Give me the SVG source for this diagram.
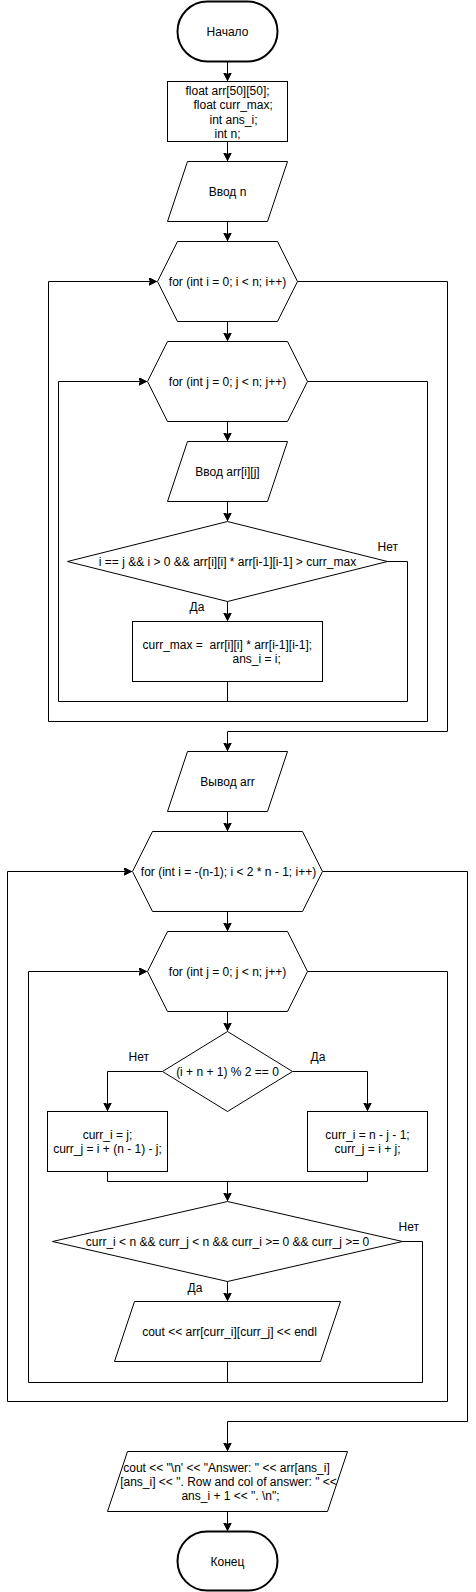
<svg xmlns="http://www.w3.org/2000/svg" width="476" height="1592" viewBox="0 0 476 1592">
<defs>
<style>
.s{fill:#fff;stroke:#000;stroke-width:1}
.t{fill:#fff;stroke:#000;stroke-width:2}
.c{fill:none;stroke:#000;stroke-width:1}
text{font-family:"Liberation Sans",Arial,Helvetica,sans-serif;font-size:12px;fill:#000}
.m{text-anchor:middle}
</style>
<marker id="a" markerWidth="10" markerHeight="10" refX="8" refY="4" orient="auto" markerUnits="userSpaceOnUse">
<path d="M0,0 L8,4 L0,8 L2,4 z" fill="#000" stroke="#000" stroke-width="1"/>
</marker>
</defs>
<rect width="476" height="1592" fill="#fff"/>
<g transform="translate(0.5,0.5)">
<g id="connectors">
<path class="c" d="M227,61 V80" marker-end="url(#a)"/>
<path class="c" d="M227,141 V160" marker-end="url(#a)"/>
<path class="c" d="M227,221 V240" marker-end="url(#a)"/>
<path class="c" d="M227,321 V340" marker-end="url(#a)"/>
<path class="c" d="M227,421 V440" marker-end="url(#a)"/>
<path class="c" d="M227,501 V520" marker-end="url(#a)"/>
<path class="c" d="M227,601 V620" marker-end="url(#a)"/>
<path class="c" d="M387,561 H407 V701 H58 V381 H146" marker-end="url(#a)"/>
<path class="c" d="M227,681 V701"/>
<path class="c" d="M307,381 H427 V721 H48 V281 H156" marker-end="url(#a)"/>
<path class="c" d="M297,281 H447 V731 H227 V750" marker-end="url(#a)"/>
<path class="c" d="M227,811 V830" marker-end="url(#a)"/>
<path class="c" d="M227,911 V930" marker-end="url(#a)"/>
<path class="c" d="M227,1011 V1030" marker-end="url(#a)"/>
<path class="c" d="M162,1071 H107 V1110" marker-end="url(#a)"/>
<path class="c" d="M292,1071 H367 V1110" marker-end="url(#a)"/>
<path class="c" d="M107,1171 V1181 H367 V1171"/>
<path class="c" d="M227,1181 V1200" marker-end="url(#a)"/>
<path class="c" d="M227,1281 V1300" marker-end="url(#a)"/>
<path class="c" d="M402,1241 H422 V1382 H28 V971 H146" marker-end="url(#a)"/>
<path class="c" d="M227,1361 V1382"/>
<path class="c" d="M307,971 H447 V1401 H7 V871 H131" marker-end="url(#a)"/>
<path class="c" d="M322,871 H467 V1421 H227 V1450" marker-end="url(#a)"/>
<path class="c" d="M227,1511 V1530" marker-end="url(#a)"/>
<text x="377" y="550">Нет</text>
<text x="189" y="610">Да</text>
<text x="128" y="1060">Нет</text>
<text x="310" y="1060">Да</text>
<text x="398" y="1230">Нет</text>
<text x="187" y="1291">Да</text>
</g>
<g id="start">
<rect class="t" x="177" y="1" width="100" height="60" rx="30" ry="30"/>
<text class="m" x="227" y="35">Начало</text>
</g>
<g id="decl">
<rect class="s" x="167" y="81" width="120" height="60"/>
<text x="185" y="94">float arr[50][50];</text>
<text x="193" y="108">float curr_max;</text>
<text x="209" y="123">int ans_i;</text>
<text x="214" y="137">int n;</text>
</g>
<g id="input-n">
<polygon class="s" points="187,161 287,161 267,221 167,221"/>
<text class="m" x="227" y="195">Ввод n</text>
</g>
<g id="loop-i1">
<polygon class="s" points="177,241 277,241 297,281 277,321 177,321 157,281"/>
<text class="m" x="227" y="285">for (int i = 0; i &lt; n; i++)</text>
</g>
<g id="loop-j1">
<polygon class="s" points="167,341 287,341 307,381 287,421 167,421 147,381"/>
<text class="m" x="227" y="385">for (int j = 0; j &lt; n; j++)</text>
</g>
<g id="input-arr">
<polygon class="s" points="187,441 287,441 267,501 167,501"/>
<text class="m" x="227" y="475">Ввод arr[i][j]</text>
</g>
<g id="cond1">
<polygon class="s" points="227,521 387,561 227,601 67,561"/>
<text class="m" x="227" y="565">i == j &amp;&amp; i &gt; 0 &amp;&amp; arr[i][i] * arr[i-1][i-1] &gt; curr_max</text>
</g>
<g id="assign-max">
<rect class="s" x="132" y="621" width="190" height="60"/>
<text x="142" y="648" xml:space="preserve">curr_max =  arr[i][i] * arr[i-1][i-1];</text>
<text x="232" y="662">ans_i = i;</text>
</g>
<g id="output-arr">
<polygon class="s" points="187,751 287,751 267,811 167,811"/>
<text class="m" x="227" y="785">Вывод arr</text>
</g>
<g id="loop-i2">
<polygon class="s" points="152,831 302,831 322,871 302,911 152,911 132,871"/>
<text class="m" x="228" y="875">for (int i = -(n-1); i &lt; 2 * n - 1; i++)</text>
</g>
<g id="loop-j2">
<polygon class="s" points="167,931 287,931 307,971 287,1011 167,1011 147,971"/>
<text class="m" x="227" y="975">for (int j = 0; j &lt; n; j++)</text>
</g>
<g id="cond2">
<polygon class="s" points="227,1031 292,1071 227,1111 162,1071"/>
<text class="m" x="227" y="1075">(i + n + 1) % 2 == 0</text>
</g>
<g id="assign-no">
<rect class="s" x="47" y="1111" width="120" height="60"/>
<text class="m" x="107" y="1138">curr_i = j;</text>
<text class="m" x="107" y="1152">curr_j = i + (n - 1) - j;</text>
</g>
<g id="assign-yes">
<rect class="s" x="307" y="1111" width="120" height="60"/>
<text class="m" x="367" y="1138">curr_i = n - j - 1;</text>
<text class="m" x="367" y="1152">curr_j = i + j;</text>
</g>
<g id="cond3">
<polygon class="s" points="227,1201 402,1241 227,1281 52,1241"/>
<text class="m" x="227" y="1245">curr_i &lt; n &amp;&amp; curr_j &lt; n &amp;&amp; curr_i &gt;= 0 &amp;&amp; curr_j &gt;= 0</text>
</g>
<g id="output-elem">
<polygon class="s" points="134,1301 340,1301 320,1361 114,1361"/>
<text class="m" x="229" y="1335">cout &lt;&lt; arr[curr_i][curr_j] &lt;&lt; endl</text>
</g>
<g id="output-answer">
<polygon class="s" points="127,1451 347,1451 327,1511 107,1511"/>
<text class="m" x="226" y="1471">cout &lt;&lt; "\n' &lt;&lt; "Answer: " &lt;&lt; arr[ans_i]</text>
<text class="m" x="228" y="1485">[ans_i] &lt;&lt; ". Row and col of answer: " &lt;&lt;</text>
<text class="m" x="230" y="1499">ans_i + 1 &lt;&lt; ". \n";</text>
</g>
<g id="end">
<rect class="t" x="177" y="1531" width="100" height="59" rx="29.5" ry="29.5"/>
<text class="m" x="227" y="1565">Конец</text>
</g>
</g>
</svg>
